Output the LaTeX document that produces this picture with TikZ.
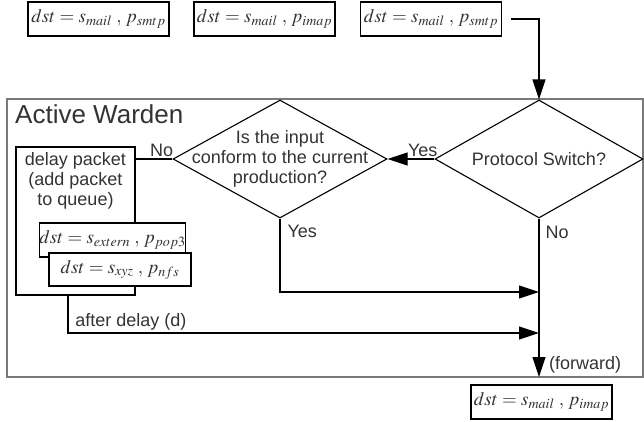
\documentclass[tikz,border=0pt]{standalone}
\usepackage{mathptmx}
\usepackage[no-math]{fontspec}
\setmainfont{Liberation Sans}
\usepackage{xcolor}
\usepackage{tikz}
\usetikzlibrary{arrows.meta,positioning,shapes.geometric}
\definecolor{txtgray}{HTML}{333333}
\definecolor{framegray}{HTML}{7A7A7A}

\begin{document}
\begin{tikzpicture}[x=1pt, y=-1pt,
  addr/.style={draw, line width=1.2pt, minimum width=141pt, minimum height=34pt, inner sep=0pt, text=txtgray, font=\fontsize{19}{21}\selectfont},
  decision/.style={draw, diamond, line width=1.1pt, inner sep=0pt},
  lbl/.style={text=txtgray, inner sep=2pt, font=\fontsize{18}{20}\selectfont},
  line/.style={line width=1.1pt},
  flow/.style={line width=1.1pt, -{Triangle[length=20pt,width=13pt]}}]
\useasboundingbox (0,0) rectangle (644,421);

% packets arriving
\node[addr] (in1) at (98.5,19) {$dst=s_{mail}\;,\,p_{smtp}$};
\node[addr] (in2) at (264.5,19) {$dst=s_{mail}\;,\,p_{imap}$};
\node[addr] (in3) at (431,19) {$dst=s_{mail}\;,\,p_{smtp}$};

% the warden
\node[draw=framegray, line width=1.2pt, minimum width=636pt, minimum height=278pt, inner sep=0pt] (warden) at (325,238) {};
\node[anchor=north west, text=txtgray, inner sep=0pt, font=\fontsize{26}{28}\selectfont] (title) at (15,104) {Active Warden};

\node[decision, minimum width=214pt, minimum height=118pt] (conform) at (280,159) {};
\node[lbl, align=center] (conformtxt) at (conform) {Is the input\\conform to the current\\production?};
\node[decision, minimum width=208pt, minimum height=118pt] (switch) at (539,159) {};
\node[lbl] (switchtxt) at (switch) {Protocol Switch?};

\node[draw, line width=1.1pt, minimum width=119pt, minimum height=148pt] (delay) at (75.5,221) {};
\node[lbl, align=center, below=4pt of delay.north] (delaytxt) {delay packet\\(add packet\\to queue)};
\node[addr, fill=white] (q1) at (112.5,240) {$dst=s_{extern}\;,\,p_{pop3}$};
\node[addr, fill=white, minimum width=142pt, minimum height=33pt] (q2) at (120,269.5) {$dst=s_{xyz}\;,\,p_{nfs}$};

\coordinate (yesjoin) at (539,292);
\coordinate (delayjoin) at (539,333);
\coordinate (fwd) at (539,377);

% packet leaving
\node[addr] (out) at (541.5,402) {$dst=s_{mail}\;,\,p_{imap}$};

\draw[flow, shorten <=9pt] (in3.east) -| (switch.north);
\draw[flow] (switch.west) -- node[lbl, anchor=south, pos=0.25] {Yes} (conform.east);
\draw[line] (conform.west) -- node[lbl, anchor=south, pos=0.29] {No} (conform.west -| delay.east);
\draw[flow] (conform.south) |- node[lbl, anchor=north west, pos=0.03, xshift=5pt] {Yes} (yesjoin);
\draw[flow] (switch.south) -- node[lbl, anchor=north west, pos=0.03, xshift=4pt] {No} (fwd);
\node[lbl, anchor=south west, xshift=8pt, yshift=2pt] (fwdtxt) at (fwd) {(forward)};
\draw[flow] ([xshift=-7.5pt]delay.south) |- node[lbl, anchor=south west, pos=0.505] {after delay (d)} (delayjoin);
\end{tikzpicture}
\end{document}
